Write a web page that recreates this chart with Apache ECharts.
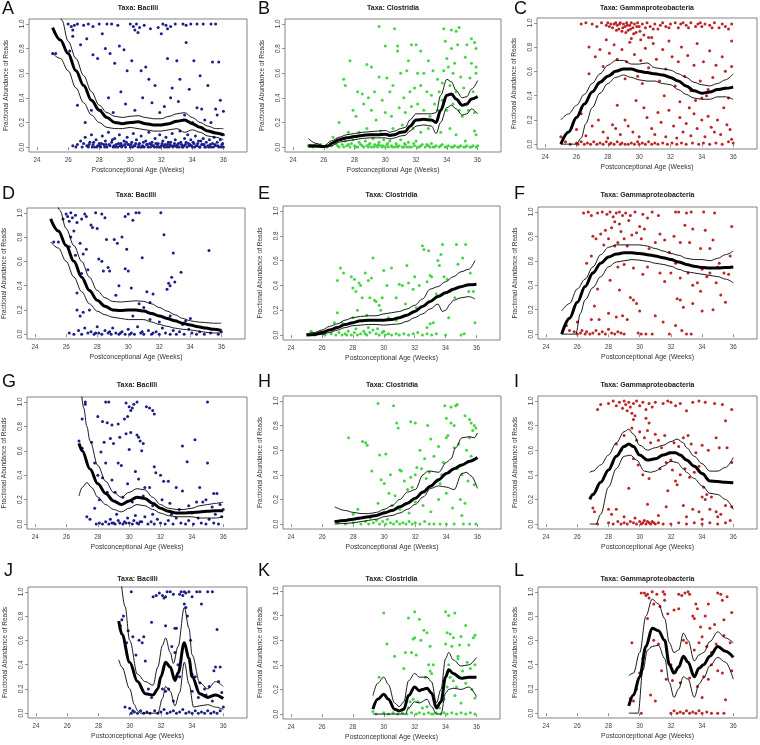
<!DOCTYPE html>
<html><head><meta charset="utf-8">
<script src="https://cdn.jsdelivr.net/npm/echarts@6/dist/echarts.min.js"></script>
<style>html,body{margin:0;padding:0;background:#fff}#c{width:760px;height:745px}</style>
</head><body><div id="c"></div>
<script>
const xTicks=[24,26,28,30,32,34,36];
const yTicks=[0,0.2,0.4,0.6,0.8,1.0];
const letters=['A','B','C','D','E','F','G','H','I','J','K','L'];
const taxa=['Bacilli','Clostridia','Gammaproteobacteria'];

// ---- Panel A (Bacilli) ----
const A_fit=[[25,0.97],[25.5,0.87],[26,0.76],[26.5,0.62],[27,0.5],[27.5,0.38],[28,0.3],[28.5,0.24],[29,0.2],[29.5,0.19],[30,0.2],[30.5,0.205],[31,0.19],[31.5,0.18],[32,0.18],[32.5,0.19],[33,0.21],[33.5,0.22],[34,0.19],[34.5,0.16],[35,0.13],[35.5,0.115],[36,0.1]];
const A_up=[[25.3,1.2],[25.6,1.03],[26,0.86],[26.5,0.72],[27,0.58],[27.5,0.45],[28,0.34],[28.5,0.28],[29,0.25],[29.5,0.24],[30,0.25],[30.5,0.255],[31,0.24],[31.5,0.23],[32,0.23],[32.5,0.25],[33,0.27],[33.5,0.28],[34,0.24],[34.5,0.2],[35,0.17],[35.5,0.15],[36,0.15]];
const A_lo=[[25,0.76],[25.5,0.72],[26,0.62],[26.5,0.48],[27,0.36],[27.5,0.26],[28,0.2],[28.5,0.16],[29,0.15],[29.5,0.15],[30,0.16],[30.5,0.15],[31,0.14],[31.5,0.13],[32,0.13],[32.5,0.14],[33,0.15],[33.5,0.12],[34,0.14],[34.5,0.12],[35,0.09],[35.5,0.08],[36,0.06]];
const A_pts=[[26.0,1.0],[26.2,0.98],[26.4,0.99],[26.6,1.0],[27.0,0.99],[27.3,1.0],[27.6,0.98],[28.0,1.0],[28.5,1.0],[28.8,1.0],[29.2,0.99],[30.0,1.0],[30.2,0.98],[30.4,1.0],[30.6,0.97],[30.9,0.99],[31.3,0.96],[31.8,0.97],[32.1,1.0],[32.3,0.99],[32.6,0.98],[32.9,1.0],[33.4,1.0],[33.6,0.99],[33.9,1.0],[34.3,1.0],[34.7,1.0],[35.2,1.0],[35.5,1.0],[32.4,0.96],[30.3,0.95],[26.3,0.95],
[25.0,0.76],[25.2,0.76],[26.1,0.78],[26.3,0.9],[26.8,0.83],[27.2,0.88],[27.6,0.75],[27.9,0.72],[28.2,0.92],[28.4,0.8],[28.7,0.76],[29.0,0.68],[29.3,0.82],[29.6,0.79],[29.8,0.62],[30.1,0.7],[30.5,0.93],[30.7,0.62],[31.0,0.65],[31.2,0.55],[31.6,0.5],[32.0,0.92],[32.4,0.72],[32.7,0.48],[33.0,0.7],[33.2,0.55],[33.6,0.85],[33.8,0.47],[34.1,0.7],[34.5,0.58],[35.0,0.5],[35.3,0.69],[35.7,0.69],[35.8,0.38],[35.5,0.31],[34.6,0.31],[34.3,0.32],[26.6,0.34],[27.1,0.2],[27.5,0.3],[28.1,0.3],[28.6,0.4],[28.9,0.28],[29.4,0.45],[29.7,0.35],[30.3,0.3],[30.8,0.4],[31.4,0.36],[31.9,0.28],[32.2,0.33],[32.6,0.4],[33.1,0.37],[33.5,0.26],[34.0,0.2],[34.8,0.22],[35.2,0.2],[35.6,0.26],[36.0,0.29],
[26.3,0.01],[26.5,0.0],[26.6,0.02],[26.8,0.05],[26.9,0.0],[27.0,0.03],[27.1,0.08],[27.2,0.01],[27.3,0.0],[27.4,0.04],[27.5,0.1],[27.6,0.02],[27.7,0.0],[27.8,0.06],[27.9,0.01],[28.0,0.03],[28.1,0.0],[28.2,0.09],[28.3,0.02],[28.4,0.05],[28.5,0.0],[28.6,0.12],[28.7,0.01],[28.8,0.04],[28.9,0.0],[29.0,0.07],[29.1,0.02],[29.2,0.0],[29.3,0.1],[29.4,0.03],[29.5,0.01],[29.6,0.05],[29.7,0.0],[29.8,0.08],[29.9,0.02],[30.0,0.0],[30.1,0.04],[30.2,0.11],[30.3,0.01],[30.4,0.06],[30.5,0.0],[30.6,0.03],[30.7,0.09],[30.8,0.01],[30.9,0.0],[31.0,0.05],[31.1,0.02],[31.2,0.12],[31.3,0.0],[31.4,0.04],[31.5,0.01],[31.6,0.07],[31.7,0.0],[31.8,0.03],[31.9,0.1],[32.0,0.01],[32.1,0.05],[32.2,0.0],[32.3,0.08],[32.4,0.02],[32.5,0.0],[32.6,0.04],[32.7,0.11],[32.8,0.01],[32.9,0.06],[33.0,0.0],[33.1,0.03],[33.2,0.13],[33.3,0.02],[33.4,0.0],[33.5,0.07],[33.6,0.04],[33.7,0.1],[33.8,0.01],[33.9,0.06],[34.0,0.0],[34.1,0.03],[34.2,0.09],[34.3,0.01],[34.4,0.05],[34.5,0.0],[34.6,0.02],[34.7,0.07],[34.8,0.0],[34.9,0.04],[35.0,0.01],[35.1,0.06],[35.2,0.0],[35.3,0.03],[35.4,0.08],[35.5,0.01],[35.6,0.04],[35.7,0.0],[35.8,0.06],[35.9,0.02],[36.0,0.0],[36.0,0.1],
[27.55,0.0],[28.05,0.01],[28.45,0.02],[28.95,0.01],[29.45,0.0],[29.85,0.02],[30.25,0.01],[30.65,0.0],[31.05,0.02],[31.45,0.01],[31.85,0.0],[32.25,0.02],[32.65,0.01],[33.05,0.02],[33.45,0.01],[33.85,0.02],[34.25,0.01],[34.65,0.02],[35.05,0.0],[35.45,0.02],
[27.35,0.02],[27.65,0.04],[27.85,0.0],[28.15,0.03],[28.35,0.0],[28.65,0.02],[28.85,0.06],[29.05,0.0],[29.25,0.03],[29.35,0.01],[29.65,0.02],[29.75,0.04],[30.05,0.02],[30.15,0.0],[30.35,0.03],[30.55,0.02],[30.75,0.0],[30.85,0.04],[31.15,0.0],[31.25,0.03],[31.35,0.02],[31.55,0.0],[31.65,0.03],[31.75,0.02],[31.95,0.0],[32.05,0.03],[32.15,0.01],[32.35,0.0],[32.45,0.04],[32.55,0.02],[32.75,0.0],[32.85,0.03],[32.95,0.01],[33.15,0.0],[33.25,0.04],[33.35,0.0],[33.55,0.02],[33.65,0.0],[33.75,0.03],[33.95,0.01],[34.05,0.04],[34.15,0.0],[34.35,0.03],[34.45,0.0],[34.55,0.05],[34.75,0.02],[34.85,0.0],[35.15,0.02],[35.35,0.0],[35.65,0.01],[35.85,0.0],[35.95,0.03]];

// ---- Panel B (Clostridia) ----
const B_fit=[[25,0.01],[25.5,0.01],[26,0.005],[26.3,0.01],[26.5,0.03],[27,0.06],[27.5,0.075],[28,0.085],[28.5,0.095],[29,0.1],[29.5,0.1],[30,0.105],[30.3,0.095],[30.6,0.1],[31,0.12],[31.3,0.125],[31.6,0.17],[32,0.22],[32.5,0.225],[33,0.22],[33.3,0.2],[33.6,0.3],[34,0.42],[34.3,0.43],[34.6,0.39],[35,0.34],[35.3,0.35],[35.6,0.39],[36,0.41]];
const B_up=[[25,0.07],[25.5,0.03],[26,0.01],[26.5,0.05],[27,0.08],[27.5,0.1],[28,0.11],[28.5,0.12],[29,0.125],[29.5,0.13],[30,0.135],[30.3,0.12],[30.6,0.13],[31,0.15],[31.3,0.16],[31.6,0.22],[32,0.27],[32.5,0.27],[33,0.27],[33.3,0.28],[33.6,0.42],[34,0.55],[34.3,0.53],[34.6,0.46],[35,0.4],[35.3,0.41],[35.6,0.47],[36,0.54]];
const B_lo=[[25,0.0],[25.5,0.0],[26,0.0],[26.5,0.01],[27,0.04],[27.5,0.05],[28,0.06],[28.5,0.07],[29,0.075],[29.5,0.075],[30,0.075],[30.3,0.065],[30.6,0.075],[31,0.09],[31.3,0.095],[31.6,0.13],[32,0.17],[32.5,0.18],[33,0.17],[33.3,0.11],[33.6,0.2],[34,0.32],[34.3,0.34],[34.6,0.31],[35,0.26],[35.3,0.27],[35.6,0.31],[36,0.27]];
const B_pts=[[29.6,0.98],[30.6,0.96],[33.8,0.96],[34.3,0.95],[34.6,0.94],[34.8,0.97],[27.7,0.7],[30.0,0.82],[30.8,0.82],[30.8,0.78],[31.7,0.83],[32.0,0.83],[32.3,0.78],[31.5,0.7],[32.8,0.7],[33.9,0.86],[34.0,0.72],[34.3,0.8],[34.5,0.68],[34.7,0.83],[35.3,0.83],[35.6,0.88],[35.8,0.85],[35.9,0.8],[35.2,0.73],[35.6,0.68],[35.9,0.65],[28.8,0.67],[29.1,0.65],[29.6,0.57],[30.1,0.56],[31.0,0.6],[31.4,0.62],[32.1,0.6],[32.5,0.6],[33.1,0.62],[33.4,0.55],[33.8,0.62],[34.1,0.65],[34.4,0.6],[34.9,0.57],[35.5,0.56],[35.9,0.6],[27.3,0.55],[27.4,0.5],[28.2,0.45],[28.5,0.43],[28.9,0.4],[29.3,0.45],[29.8,0.38],[30.3,0.45],[30.5,0.5],[31.2,0.4],[31.6,0.45],[31.9,0.48],[32.3,0.5],[32.7,0.45],[33.0,0.42],[33.5,0.45],[33.7,0.52],[34.2,0.5],[34.6,0.45],[35.1,0.48],[35.7,0.45],[27.0,0.2],[27.9,0.3],[28.1,0.25],[28.6,0.35],[29.1,0.3],[29.4,0.22],[30.0,0.28],[30.4,0.25],[30.9,0.32],[31.3,0.28],[31.7,0.33],[32.1,0.35],[32.5,0.3],[32.9,0.25],[33.2,0.35],[33.4,0.3],[33.7,0.38],[34.0,0.3],[34.4,0.35],[34.8,0.3],[35.0,0.25],[35.4,0.3],[35.8,0.28],[35.9,0.1],[35.8,0.13],[35.2,0.05],[34.6,0.1],[34.2,0.15],[33.6,0.12],[32.8,0.15],[32.3,0.12],[31.8,0.15],[31.1,0.18],[30.5,0.15],[29.7,0.13],[28.8,0.15],[28.3,0.12],[27.6,0.12],[26.6,0.08],
[25.0,0.01],[25.3,0.0],[25.8,0.02],[26.2,0.0],[26.5,0.01],[26.8,0.03],[27.0,0.0],[27.2,0.02],[27.4,0.05],[27.5,0.01],[27.7,0.0],[27.8,0.03],[27.9,0.06],[28.0,0.01],[28.2,0.0],[28.3,0.04],[28.4,0.02],[28.6,0.0],[28.7,0.05],[28.8,0.01],[29.0,0.03],[29.1,0.0],[29.2,0.07],[29.3,0.02],[29.5,0.0],[29.6,0.04],[29.7,0.01],[29.9,0.06],[30.0,0.0],[30.1,0.02],[30.3,0.05],[30.4,0.01],[30.6,0.0],[30.7,0.03],[30.9,0.01],[31.0,0.06],[31.2,0.0],[31.3,0.02],[31.5,0.04],[31.7,0.0],[31.9,0.01],[32.0,0.05],[32.2,0.0],[32.4,0.02],[32.6,0.0],[32.8,0.01],[33.0,0.03],[33.1,0.0],[33.3,0.01],[33.5,0.0],[33.7,0.02],[33.9,0.0],[34.1,0.01],[34.3,0.0],[34.5,0.01],[34.7,0.0],[34.9,0.01],[35.1,0.0],[35.3,0.01],[35.5,0.0],[35.7,0.01],[35.9,0.0],[28.1,0.0],[28.9,0.0],[29.8,0.0],[30.2,0.0],[30.8,0.0],[31.4,0.0],[32.1,0.0],[32.9,0.0],[31.1,0.0],[29.4,0.01],[27.3,0.0],[26.9,0.01],
[27.6,0.02],[28.5,0.01],[28.95,0.02],[29.25,0.0],[29.55,0.02],[29.85,0.01],[30.15,0.03],[30.45,0.0],[30.75,0.01],[31.25,0.03],[31.55,0.0],[31.85,0.03],[32.3,0.01],[32.7,0.02],[33.2,0.0],[33.6,0.01],[34.0,0.0],[34.4,0.0],[34.8,0.0],[35.2,0.0],[35.6,0.0],[36.0,0.01]];

// ---- Panel C (Gammaproteobacteria) ----
const C_fit=[[25,0.0],[25.5,0.1],[26,0.22],[26.5,0.33],[27,0.43],[27.5,0.51],[28,0.56],[28.5,0.6],[29,0.62],[29.5,0.62],[30,0.6],[30.5,0.59],[31,0.58],[31.5,0.57],[32,0.55],[32.5,0.52],[33,0.48],[33.5,0.44],[34,0.42],[34.5,0.43],[35,0.45],[35.5,0.46],[36,0.47]];
const C_up=[[25,0.2],[25.5,0.25],[26,0.32],[26.5,0.41],[27,0.5],[27.5,0.58],[28,0.65],[28.5,0.69],[29,0.69],[29.5,0.66],[30,0.66],[30.5,0.67],[31,0.63],[31.5,0.62],[32,0.61],[32.5,0.58],[33,0.55],[33.5,0.51],[34,0.49],[34.5,0.48],[35,0.5],[35.5,0.53],[36,0.58]];
const C_lo=[[25,0.0],[25.5,0.0],[26,0.0],[26.3,0.05],[26.6,0.17],[27,0.3],[27.5,0.42],[28,0.5],[28.5,0.55],[29,0.57],[29.5,0.55],[30,0.53],[30.5,0.52],[31,0.52],[31.5,0.5],[32,0.49],[32.5,0.45],[33,0.41],[33.5,0.38],[34,0.37],[34.5,0.37],[35,0.39],[35.5,0.39],[36,0.37]];
const C_pts=[[26.3,0.99],[26.6,1.0],[27.0,0.99],[27.3,0.97],[27.6,1.0],[27.9,0.98],[28.0,1.0],[28.2,0.99],[28.3,0.96],[28.5,1.0],[28.6,0.98],[28.7,0.95],[28.8,1.0],[28.9,0.93],[29.0,0.99],[29.1,0.97],[29.2,1.0],[29.3,0.94],[29.4,0.98],[29.5,1.0],[29.6,0.96],[29.7,0.99],[29.8,0.92],[29.9,1.0],[30.0,0.97],[30.2,0.99],[30.3,0.9],[30.5,1.0],[30.7,0.97],[30.8,0.88],[31.0,0.99],[31.2,0.95],[31.5,1.0],[31.7,0.97],[32.0,0.99],[32.3,1.0],[32.5,0.96],[32.8,1.0],[33.0,0.98],[33.3,1.0],[33.6,0.97],[33.9,1.0],[34.2,0.99],[34.5,0.98],[34.8,1.0],[35.1,0.96],[35.5,0.97],[35.9,0.99],[30.1,0.86],[30.6,0.88],[29.5,0.87],
[28.1,0.97],[28.4,0.99],[28.55,0.94],[28.75,0.99],[28.95,0.96],[29.15,0.92],[29.25,0.98],[29.45,0.95],[29.65,0.91],[29.85,0.97],[30.05,0.93],[30.4,0.96],[30.9,0.95],[31.35,0.98],[31.9,0.96],[32.65,0.99],[33.15,0.96],[33.75,0.99],[34.0,0.97],[34.65,0.96],[35.3,0.99],[35.7,0.95],
[26.8,0.8],[27.2,0.72],[27.5,0.78],[27.7,0.64],[27.9,0.86],[28.1,0.75],[28.4,0.82],[28.6,0.7],[28.9,0.78],[29.2,0.68],[29.4,0.84],[29.7,0.74],[29.9,0.56],[30.1,0.69],[30.4,0.79],[30.6,0.63],[30.9,0.83],[31.1,0.7],[31.3,0.52],[31.5,0.78],[31.7,0.62],[31.9,0.85],[32.1,0.72],[32.3,0.48],[32.5,0.68],[32.7,0.8],[32.9,0.56],[33.1,0.73],[33.3,0.44],[33.5,0.65],[33.7,0.83],[33.9,0.52],[34.1,0.68],[34.3,0.4],[34.5,0.77],[34.7,0.55],[34.9,0.65],[35.1,0.45],[35.3,0.72],[35.5,0.6],[35.7,0.38],[35.9,0.85],[35.9,0.64],[34.0,0.38],[34.4,0.45],[33.6,0.36],[33.2,0.3],[32.6,0.35],[31.6,0.4],[30.2,0.5],[29.1,0.54],[28.3,0.58],[28.6,0.32],[27.4,0.5],[26.8,0.58],
[26.0,0.12],[26.3,0.25],[26.6,0.07],[27.0,0.15],[27.4,0.2],[27.7,0.1],[28.0,0.05],[28.3,0.16],[28.5,0.13],[28.8,0.08],[29.1,0.2],[29.3,0.15],[29.6,0.1],[29.8,0.36],[30.0,0.06],[30.3,0.3],[30.5,0.22],[30.8,0.13],[31.0,0.08],[31.2,0.26],[31.4,0.18],[31.7,0.06],[31.9,0.28],[32.2,0.15],[32.4,0.05],[32.6,0.22],[32.8,0.1],[33.0,0.17],[33.3,0.07],[33.5,0.25],[33.7,0.13],[34.0,0.2],[34.2,0.06],[34.4,0.23],[34.6,0.14],[34.8,0.1],[35.0,0.2],[35.2,0.08],[35.4,0.3],[35.6,0.16],[35.8,0.12],[35.9,0.04],[25.0,0.06],[25.3,0.02],
[25.6,0.0],[26.0,0.01],[26.1,0.0],[26.3,0.02],[26.5,0.0],[26.7,0.01],[26.9,0.0],[27.1,0.02],[27.3,0.0],[27.5,0.01],[27.7,0.0],[27.9,0.02],[28.1,0.0],[28.2,0.01],[28.4,0.0],[28.6,0.02],[28.8,0.0],[28.9,0.01],[29.1,0.0],[29.3,0.0],[29.5,0.01],[29.7,0.0],[29.9,0.02],[30.0,0.0],[30.2,0.01],[30.4,0.0],[30.6,0.02],[30.8,0.0],[31.0,0.01],[31.2,0.0],[31.5,0.01],[31.8,0.0],[32.1,0.01],[32.4,0.0],[32.7,0.01],[33.0,0.0],[33.4,0.01],[33.8,0.0],[34.1,0.01],[34.5,0.0],[34.9,0.01],[35.3,0.0],[35.7,0.02],[36.0,0.01]];

// ---- Panel D (Bacilli) ----
const D_fit=[[25,0.95],[25.5,0.85],[26,0.73],[26.5,0.6],[27,0.47],[27.5,0.36],[28,0.28],[28.5,0.23],[29,0.2],[29.5,0.195],[30,0.2],[30.5,0.2],[31,0.19],[31.5,0.17],[32,0.15],[32.5,0.13],[33,0.11],[33.5,0.09],[34,0.075],[34.5,0.06],[35,0.05],[35.5,0.04],[36,0.03]];
const D_up=[[25.3,1.15],[25.6,1.02],[26,0.87],[26.5,0.73],[27,0.6],[27.5,0.47],[28,0.36],[28.5,0.3],[29,0.27],[29.5,0.265],[30,0.27],[30.5,0.275],[31,0.27],[31.5,0.25],[32,0.22],[32.5,0.19],[33,0.16],[33.5,0.13],[34,0.11],[34.5,0.1],[35,0.095],[35.5,0.09],[36,0.09]];
const D_lo=[[25,0.76],[25.5,0.71],[26,0.6],[26.5,0.47],[27,0.35],[27.5,0.25],[28,0.19],[28.5,0.16],[29,0.14],[29.5,0.13],[30,0.12],[30.5,0.12],[31,0.12],[31.5,0.1],[32,0.08],[32.5,0.065],[33,0.05],[33.5,0.04],[34,0.035],[34.5,0.025],[35,0.015],[35.5,0.01],[36,0.01]];
const D_pts=[[25.2,0.76],[25.5,0.76],[25.8,0.95],[26.0,0.99],[26.1,0.97],[26.2,0.93],[26.3,1.0],[26.4,0.96],[26.6,0.98],[26.7,0.92],[27.0,0.95],[27.2,0.99],[27.3,0.97],[27.6,0.9],[27.9,1.0],[28.3,0.99],[28.5,0.96],[26.3,0.8],[26.5,0.85],[26.2,0.72],[26.6,0.65],[26.9,0.75],[27.1,0.66],[27.3,0.7],[27.7,0.88],[28.0,0.87],[28.1,0.62],[28.3,0.6],[28.6,0.78],[28.7,0.55],[28.8,0.52],[29.1,0.78],[29.3,0.75],[29.6,0.8],[29.9,0.7],[29.8,0.97],[30.0,0.99],[30.3,0.94],[30.5,1.0],[30.7,1.0],[32.1,1.0],[32.3,0.82],[32.9,0.67],[33.4,0.51],[35.2,0.69],[30.0,0.52],[29.8,0.54],[28.4,0.52],[27.0,0.5],[27.4,0.53],[30.9,0.63],[29.4,0.4],[30.2,0.38],[29.2,0.32],[31.2,0.35],[31.6,0.33],[32.5,0.37],[32.6,0.42],[32.8,0.47],[33.0,0.43],[32.7,0.4],[26.7,0.34],[26.7,0.2],[27.1,0.18],[27.5,0.2],[26.9,0.15],[31.0,0.22],[31.4,0.26],[30.7,0.25],[30.3,0.15],[31.4,0.12],[32.0,0.1],[32.7,0.15],[33.7,0.11],[34.0,0.13],[33.5,0.08],
[26.2,0.01],[26.5,0.0],[26.8,0.03],[27.0,0.0],[27.2,0.05],[27.4,0.01],[27.6,0.02],[27.8,0.0],[28.0,0.06],[28.1,0.01],[28.3,0.0],[28.5,0.03],[28.7,0.01],[28.9,0.0],[29.0,0.05],[29.2,0.01],[29.4,0.0],[29.6,0.02],[29.8,0.0],[30.0,0.04],[30.2,0.01],[30.4,0.0],[30.6,0.06],[30.8,0.01],[31.0,0.0],[31.3,0.03],[31.5,0.0],[31.8,0.02],[32.0,0.0],[32.2,0.05],[32.4,0.01],[32.7,0.0],[32.9,0.03],[33.1,0.0],[33.3,0.02],[33.6,0.0],[33.9,0.04],[34.1,0.01],[34.4,0.0],[34.6,0.02],[34.9,0.0],[35.3,0.01],[35.8,0.0],[36.0,0.02],[27.9,0.01],[28.8,0.02],[29.5,0.01],[30.1,0.0],[30.9,0.02],[31.6,0.01]];

// ---- Panel E (Clostridia) ----
const E_fit=[[25,0.0],[25.5,0.005],[26,0.02],[26.5,0.04],[27,0.06],[27.5,0.085],[28,0.1],[28.5,0.115],[29,0.12],[29.5,0.12],[30,0.12],[30.5,0.125],[31,0.14],[31.5,0.16],[32,0.19],[32.5,0.23],[33,0.27],[33.5,0.31],[34,0.34],[34.5,0.37],[35,0.39],[35.5,0.405],[36,0.41]];
const E_up=[[25,0.01],[25.5,0.02],[26,0.04],[26.5,0.07],[27,0.09],[27.5,0.12],[28,0.14],[28.5,0.15],[29,0.155],[29.5,0.155],[30,0.17],[30.5,0.18],[31,0.19],[31.5,0.21],[32,0.24],[32.5,0.29],[33,0.37],[33.5,0.39],[34,0.43],[34.5,0.47],[35,0.51],[35.5,0.53],[35.9,0.6]];
const E_lo=[[25,0.0],[25.5,0.0],[26,0.005],[26.5,0.02],[27,0.04],[27.5,0.06],[28,0.075],[28.5,0.08],[29,0.085],[29.5,0.085],[30,0.08],[30.5,0.085],[31,0.09],[31.5,0.11],[32,0.14],[32.5,0.17],[33,0.21],[33.5,0.25],[33.8,0.19],[34,0.2],[34.3,0.25],[34.5,0.28],[35,0.3],[35.5,0.31],[35.9,0.29]];
const E_pts=[[26.1,0.01],[25.3,0.03],[27.0,0.44],[27.2,0.54],[27.4,0.5],[27.9,0.47],[28.0,0.38],[28.2,0.35],[28.4,0.42],[28.1,0.45],[28.6,0.3],[28.8,0.5],[28.5,0.4],[29.0,0.44],[29.2,0.46],[29.3,0.62],[29.4,0.28],[29.5,0.27],[29.1,0.3],[29.8,0.2],[29.9,0.3],[30.0,0.52],[30.2,0.4],[30.5,0.54],[30.8,0.3],[31.0,0.41],[31.2,0.4],[31.4,0.25],[31.6,0.42],[31.5,0.56],[31.9,0.37],[32.0,0.47],[32.3,0.4],[32.5,0.72],[32.6,0.69],[32.8,0.43],[32.9,0.68],[33.0,0.48],[33.1,0.47],[33.4,0.33],[33.5,0.6],[33.6,0.56],[33.7,0.65],[33.8,0.73],[33.9,0.47],[34.1,0.45],[34.3,0.35],[34.0,0.0],[34.2,0.14],[34.6,0.3],[34.7,0.73],[34.8,0.57],[35.0,0.0],[35.2,0.01],[35.3,0.73],[35.1,0.62],[35.5,0.35],[35.6,0.5],[35.8,0.35],[35.9,0.1],[27.0,0.18],[27.3,0.1],[28.0,0.14],[28.3,0.2],[28.9,0.16],[29.7,0.24],[30.3,0.14],[30.8,0.12],[31.3,0.15],[32.1,0.22],[33.0,0.09],[33.2,0.1],[32.8,0.06],[26.8,0.1],
[25.5,0.0],[26.2,0.0],[26.6,0.01],[26.9,0.0],[27.1,0.02],[27.3,0.0],[27.5,0.01],[27.7,0.03],[27.9,0.0],[28.1,0.02],[28.3,0.0],[28.5,0.01],[28.7,0.03],[28.9,0.0],[29.1,0.02],[29.3,0.04],[29.5,0.01],[29.7,0.0],[29.9,0.02],[30.1,0.0],[30.3,0.01],[30.5,0.0],[30.8,0.01],[31.0,0.0],[31.3,0.01],[31.6,0.0],[31.9,0.01],[32.2,0.02],[32.5,0.0],[32.8,0.01],[33.1,0.0],[33.4,0.01],[28.2,0.05],[29.0,0.06],[29.6,0.05],[30.0,0.03],[27.6,0.0],[28.8,0.01]];

// ---- Panel F (Gammaproteobacteria) ----
const F_fit=[[25,0.0],[25.5,0.13],[26,0.26],[26.5,0.39],[27,0.5],[27.5,0.58],[28,0.63],[28.5,0.655],[29,0.665],[29.5,0.665],[30,0.66],[30.5,0.65],[31,0.64],[31.5,0.625],[32,0.61],[32.5,0.59],[33,0.57],[33.5,0.555],[34,0.545],[34.5,0.54],[35,0.54],[35.5,0.545],[36,0.55]];
const F_up=[[25,0.19],[25.5,0.25],[26,0.37],[26.5,0.45],[27,0.55],[27.5,0.65],[28,0.71],[28.5,0.73],[29,0.73],[29.5,0.73],[30,0.73],[30.5,0.72],[31,0.7],[31.5,0.68],[32,0.66],[32.5,0.645],[33,0.62],[33.5,0.61],[34,0.61],[34.5,0.6],[35,0.62],[35.5,0.65],[36,0.68]];
const F_lo=[[25,0.0],[25.5,0.0],[25.9,0.0],[26.2,0.17],[26.5,0.28],[27,0.38],[27.5,0.47],[28,0.55],[28.5,0.59],[29,0.6],[29.5,0.61],[30,0.605],[30.5,0.595],[31,0.58],[31.5,0.57],[32,0.555],[32.5,0.53],[33,0.51],[33.5,0.5],[34,0.49],[34.5,0.48],[35,0.47],[35.5,0.45],[36,0.42]];
const F_pts=[[26.4,0.99],[26.7,1.0],[26.9,0.97],[27.3,0.99],[27.6,1.0],[27.9,0.98],[28.1,1.0],[28.3,0.96],[28.5,0.99],[28.7,1.0],[28.9,0.97],[29.1,0.99],[29.4,0.97],[29.7,1.0],[30.2,0.98],[30.5,0.95],[30.8,1.0],[31.2,0.97],[32.3,1.0],[32.5,1.0],[33.0,0.99],[33.3,1.0],[34.1,1.0],[34.8,0.99],[28.4,0.92],[28.7,0.9],[29.3,0.93],[30.0,0.88],
[26.6,0.58],[27.0,0.8],[27.2,0.78],[27.5,0.82],[27.7,0.73],[27.8,0.85],[28.0,0.78],[28.2,0.87],[28.4,0.72],[28.6,0.75],[28.8,0.84],[29.0,0.78],[29.2,0.72],[29.5,0.81],[29.8,0.83],[30.1,0.78],[30.3,0.86],[30.6,0.7],[31.0,0.75],[31.3,0.82],[31.6,0.77],[31.9,0.67],[32.2,0.8],[32.6,0.75],[32.9,0.89],[33.2,0.75],[33.4,0.86],[33.9,0.7],[34.2,0.85],[34.5,0.7],[34.7,0.77],[35.0,0.55],[35.9,0.88],[35.8,0.64],[26.9,0.64],[27.0,0.5],[28.6,0.55],[29.0,0.57],[29.6,0.54],[30.2,0.49],[30.5,0.55],[31.3,0.5],[31.6,0.43],[32.0,0.5],[32.3,0.58],[32.6,0.46],[33.1,0.5],[33.4,0.4],[33.7,0.42],[33.9,0.35],[34.0,0.53],[34.3,0.47],[34.5,0.5],[34.9,0.42],[35.1,0.58],[35.4,0.5],[35.7,0.49],[27.3,0.37],[28.1,0.44],[28.7,0.36],[29.4,0.3],[29.6,0.28],[29.8,0.25],[30.0,0.19],[31.0,0.15],[31.5,0.1],[32.4,0.29],[32.6,0.28],[32.8,0.22],[33.4,0.25],[34.0,0.19],[34.7,0.2],[35.2,0.32],[35.5,0.26],[27.1,0.23],[26.9,0.12],[27.4,0.12],[28.0,0.17],[28.5,0.14],[28.9,0.15],[29.2,0.12],[25.3,0.07],[26.0,0.1],[25.5,0.03],[32.3,0.07],[32.7,0.03],
[25.8,0.02],[26.0,0.0],[26.2,0.01],[26.3,0.03],[26.5,0.0],[26.6,0.02],[26.8,0.0],[27.0,0.01],[27.2,0.03],[27.4,0.0],[27.6,0.02],[27.8,0.0],[28.0,0.04],[28.2,0.01],[28.4,0.0],[28.6,0.02],[28.8,0.01],[29.0,0.0],[29.9,0.01],[30.1,0.0],[30.4,0.0],[30.8,0.0],[31.9,0.0],[33.0,0.0],[33.3,0.0]];

// ---- Panel G (Bacilli) ----
const G_fit=[[26.8,0.66],[27,0.6],[27.5,0.45],[28,0.33],[28.5,0.25],[29,0.19],[29.5,0.16],[30,0.19],[30.5,0.22],[31,0.21],[31.5,0.17],[32,0.13],[32.5,0.105],[33,0.09],[33.5,0.09],[34,0.095],[34.5,0.1],[35,0.105],[35.5,0.11],[36,0.11]];
const G_up=[[26.9,1.15],[27.1,0.95],[27.3,0.8],[27.5,0.68],[28,0.48],[28.5,0.35],[29,0.26],[29.5,0.22],[30,0.26],[30.5,0.29],[31,0.28],[31.5,0.22],[32,0.16],[32.5,0.13],[33,0.12],[33.5,0.12],[34,0.13],[34.5,0.15],[35,0.16],[35.5,0.17],[36,0.18]];
const G_lo=[[26.8,0.23],[27.0,0.3],[27.3,0.34],[27.6,0.3],[28,0.22],[28.5,0.16],[29,0.12],[29.5,0.1],[30,0.13],[30.5,0.16],[31,0.15],[31.5,0.12],[32,0.09],[32.5,0.07],[33,0.06],[33.5,0.06],[34,0.06],[34.5,0.05],[35,0.05],[35.5,0.05],[36,0.06]];
const G_pts=[[27.2,1.0],[27.2,0.98],[28.5,1.0],[28.7,1.0],[29.8,0.99],[30.0,0.96],[30.1,0.93],[30.2,0.95],[30.3,0.98],[30.5,1.0],[31.1,0.96],[31.3,0.95],[31.5,0.93],[31.6,0.9],[35.0,1.0],[27.0,0.86],[28.0,0.88],[28.3,0.84],[28.6,0.83],[28.9,0.81],[29.3,0.82],[29.7,0.86],[29.9,0.88],[30.1,0.75],[30.5,0.73],[30.6,0.71],[30.7,0.68],[29.8,0.74],[29.0,0.66],[28.8,0.7],[28.4,0.67],[27.6,0.67],[29.4,0.71],[30.0,0.61],[30.9,0.66],[34.2,0.69],[33.4,0.64],[26.8,0.68],[27.0,0.62],[28.2,0.59],[27.8,0.5],[28.5,0.5],[29.3,0.5],[30.8,0.6],[33.7,0.51],[35.0,0.5],
[28.0,0.4],[28.3,0.38],[28.9,0.36],[29.5,0.48],[29.9,0.33],[30.4,0.43],[30.6,0.37],[31.0,0.3],[31.3,0.3],[31.6,0.47],[31.7,0.42],[32.0,0.4],[32.2,0.35],[32.5,0.35],[33.0,0.3],[33.4,0.27],[34.5,0.3],[34.9,0.2],[35.4,0.25],[35.6,0.25],[36.0,0.12],[27.3,0.06],[27.5,0.04],[27.8,0.13],[28.1,0.2],[28.6,0.26],[29.1,0.26],[29.6,0.22],[30.2,0.18],[30.9,0.23],[31.5,0.15],[32.1,0.2],[32.6,0.17],[33.2,0.12],[33.8,0.15],[34.3,0.18],[34.7,0.18],[35.3,0.14],[35.8,0.16],
[27.9,0.0],[28.1,0.01],[28.3,0.0],[28.5,0.02],[28.7,0.0],[28.8,0.04],[29.0,0.01],[29.1,0.0],[29.3,0.03],[29.4,0.01],[29.6,0.0],[29.7,0.02],[29.9,0.05],[30.0,0.01],[30.2,0.0],[30.3,0.03],[30.5,0.01],[30.6,0.0],[30.8,0.02],[31.0,0.06],[31.2,0.0],[31.4,0.02],[31.6,0.0],[31.8,0.04],[32.0,0.01],[32.3,0.0],[32.5,0.03],[32.8,0.0],[33.0,0.05],[33.3,0.01],[33.6,0.0],[33.8,0.03],[34.1,0.0],[34.4,0.05],[34.6,0.01],[34.9,0.0],[35.1,0.04],[35.4,0.01],[35.7,0.0],[35.9,0.06],[29.2,0.08],[30.4,0.07],[31.5,0.08],[32.7,0.08],[34.0,0.09],[35.5,0.08],[28.9,0.01],[29.8,0.01],[30.7,0.02]];

// ---- Panel H (Clostridia) ----
const H_fit=[[26.8,0.02],[27.5,0.03],[28,0.04],[28.5,0.05],[29,0.06],[29.5,0.07],[30,0.09],[30.5,0.11],[31,0.14],[31.5,0.17],[32,0.21],[32.5,0.26],[33,0.31],[33.5,0.36],[34,0.41],[34.5,0.45],[35,0.48],[35.5,0.51],[36,0.54]];
const H_up=[[26.8,0.14],[27.5,0.11],[28,0.095],[28.5,0.085],[29,0.085],[29.5,0.095],[30,0.12],[30.5,0.15],[31,0.2],[31.5,0.26],[32,0.28],[32.5,0.4],[32.8,0.43],[33,0.43],[33.5,0.42],[34,0.5],[34.3,0.53],[34.6,0.62],[35,0.7],[35.5,0.71],[35.8,0.7],[36,0.74]];
const H_lo=[[26.8,0.0],[27.5,0.005],[28,0.01],[28.5,0.02],[29,0.03],[29.5,0.04],[30,0.06],[30.5,0.07],[31,0.09],[31.5,0.12],[32,0.16],[32.5,0.22],[33,0.29],[33.5,0.31],[34,0.3],[34.5,0.28],[35,0.41],[35.3,0.42],[35.6,0.39],[36,0.29]];
const H_pts=[[27.7,0.7],[28.6,0.67],[28.9,0.64],[28.8,0.66],[29.6,0.98],[30.6,0.96],[30.8,0.82],[30.9,0.78],[31.7,0.83],[32.0,0.82],[32.8,0.8],[33.9,0.96],[34.3,0.95],[34.6,0.96],[34.7,0.97],[34.0,0.86],[34.5,0.8],[35.2,0.88],[35.5,0.85],[35.6,0.82],[35.8,0.8],[35.9,0.78],[29.2,0.43],[29.7,0.56],[30.1,0.57],[30.4,0.4],[31.0,0.44],[31.1,0.43],[31.7,0.38],[32.0,0.4],[32.3,0.6],[32.6,0.53],[33.0,0.69],[33.5,0.63],[33.8,0.5],[34.1,0.72],[34.3,0.82],[34.5,0.62],[34.0,0.7],[34.8,0.65],[35.0,0.4],[35.3,0.6],[35.5,0.7],[35.7,0.76],[29.8,0.36],[30.0,0.33],[30.3,0.25],[30.7,0.23],[31.3,0.35],[31.5,0.28],[31.8,0.3],[32.1,0.46],[32.4,0.45],[32.7,0.37],[32.9,0.42],[33.2,0.55],[33.4,0.35],[33.6,0.33],[33.7,0.4],[34.2,0.42],[34.7,0.45],[35.0,0.07],[35.2,0.17],[35.4,0.35],[35.6,0.55],[35.8,0.32],[28.0,0.08],[28.3,0.12],[29.1,0.05],[29.6,0.17],[30.0,0.1],[30.5,0.15],[31.0,0.12],[31.6,0.09],[32.0,0.18],[32.5,0.15],[33.0,0.1],[33.5,0.2],[34.0,0.25],[34.4,0.13],[34.9,0.2],
[27.0,0.01],[27.5,0.0],[28.0,0.01],[28.5,0.0],[28.8,0.02],[29.0,0.0],[29.3,0.01],[29.5,0.03],[29.7,0.0],[29.9,0.02],[30.1,0.0],[30.2,0.04],[30.4,0.01],[30.6,0.0],[30.8,0.02],[31.0,0.0],[31.2,0.01],[31.4,0.0],[31.6,0.02],[31.8,0.0],[32.0,0.01],[32.3,0.0],[32.6,0.02],[32.9,0.0],[33.2,0.0],[33.6,0.0],[34.0,0.0],[34.5,0.0],[35.1,0.0],[35.5,0.0],[35.9,0.0]];

// ---- Panel I (Gammaproteobacteria) ----
const I_fit=[[26.8,0.2],[27,0.24],[27.5,0.34],[28,0.44],[28.5,0.55],[29,0.63],[29.3,0.65],[29.6,0.63],[30,0.56],[30.5,0.52],[31,0.53],[31.5,0.56],[32,0.58],[32.3,0.58],[32.6,0.56],[33,0.52],[33.5,0.47],[34,0.41],[34.5,0.35],[35,0.345],[35.5,0.34],[36,0.335]];
const I_up=[[26.8,0.42],[27,0.43],[27.5,0.48],[28,0.56],[28.5,0.66],[29,0.75],[29.3,0.77],[29.6,0.73],[30,0.64],[30.5,0.6],[31,0.62],[31.5,0.64],[32,0.67],[32.4,0.69],[32.8,0.66],[33,0.62],[33.5,0.55],[34,0.49],[34.5,0.43],[35,0.43],[35.5,0.46],[36,0.54]];
const I_lo=[[26.8,0.0],[27.2,0.0],[27.5,0.08],[28,0.3],[28.5,0.45],[29,0.55],[29.4,0.56],[29.8,0.52],[30.3,0.43],[30.7,0.42],[31,0.43],[31.5,0.47],[32,0.51],[32.4,0.5],[32.8,0.45],[33,0.42],[33.5,0.37],[34,0.31],[34.5,0.25],[35,0.24],[35.5,0.2],[36,0.12]];
const I_pts=[[27.3,0.93],[27.5,0.97],[28.0,0.98],[28.3,1.0],[28.5,0.96],[28.7,0.99],[28.9,0.94],[29.0,1.0],[29.1,0.97],[29.2,0.92],[29.3,0.99],[29.4,0.95],[29.5,0.9],[29.6,0.98],[29.7,0.88],[29.8,1.0],[30.0,0.96],[30.2,0.99],[30.4,0.93],[30.6,0.98],[30.8,0.95],[31.0,0.99],[31.5,0.98],[31.8,1.0],[32.0,0.99],[32.3,0.96],[32.6,0.98],[33.0,0.92],[33.4,0.99],[33.8,1.0],[34.2,0.99],[34.8,0.98],[35.3,0.97],[35.9,0.93],[35.5,0.84],[29.6,0.85],[30.4,0.86],[30.6,0.82],
[28.5,0.65],[28.8,0.6],[29.0,0.72],[29.5,0.78],[29.8,0.68],[30.0,0.75],[30.3,0.7],[30.5,0.76],[30.7,0.66],[31.0,0.73],[31.2,0.68],[31.4,0.62],[31.6,0.72],[31.9,0.58],[32.2,0.66],[32.5,0.63],[32.8,0.7],[33.1,0.72],[33.3,0.65],[33.6,0.58],[34.0,0.64],[34.4,0.6],[34.9,0.7],[35.1,0.62],[35.6,0.62],[35.9,0.5],[29.3,0.29],[29.6,0.53],[29.9,0.48],[30.2,0.4],[30.6,0.37],[31.3,0.45],[31.7,0.5],[32.0,0.52],[32.1,0.44],[32.3,0.35],[32.6,0.4],[32.9,0.45],[33.2,0.38],[33.5,0.42],[33.8,0.47],[34.1,0.3],[34.3,0.24],[34.6,0.22],[34.2,0.2],[34.0,0.22],[32.4,0.32],[31.8,0.27],[30.5,0.16],[31.7,0.14],[32.8,0.15],[33.4,0.12],[33.8,0.1],[34.5,0.12],[34.9,0.1],[35.2,0.08],[35.5,0.15],[35.9,0.14],[35.8,0.03],[28.0,0.12],[28.5,0.12],[28.2,0.08],[29.0,0.06],[27.1,0.1],[27.0,0.13],[29.7,0.05],[31.2,0.07],[33.0,0.06],[34.0,0.04],[35.0,0.06],
[27.3,0.0],[28.0,0.01],[28.3,0.0],[28.6,0.02],[28.8,0.0],[29.0,0.01],[29.2,0.0],[29.4,0.02],[29.6,0.01],[29.8,0.0],[30.0,0.02],[30.1,0.0],[30.2,0.01],[30.3,0.03],[30.4,0.0],[30.5,0.02],[30.6,0.01],[30.7,0.0],[30.8,0.02],[30.9,0.01],[31.0,0.0],[31.2,0.01],[31.5,0.0],[32.0,0.0],[32.5,0.01],[33.0,0.0],[33.5,0.01],[34.0,0.0],[34.5,0.01],[35.0,0.0],[35.5,0.01]];

// ---- Panel J (Bacilli) ----
const J_fit=[[29.3,0.76],[29.5,0.65],[30,0.42],[30.5,0.26],[31,0.16],[31.5,0.15],[31.8,0.2],[32,0.3],[32.3,0.42],[32.6,0.38],[32.9,0.27],[33.1,0.33],[33.5,0.58],[33.8,0.45],[34,0.3],[34.5,0.16],[35,0.13],[35.5,0.15],[36,0.12]];
const J_up=[[29.4,1.15],[29.7,0.88],[30,0.6],[30.5,0.32],[31,0.26],[31.5,0.23],[31.8,0.38],[32.1,0.56],[32.3,0.62],[32.6,0.5],[32.8,0.41],[33.1,0.55],[33.5,0.87],[33.8,0.7],[34,0.48],[34.5,0.25],[35,0.2],[35.5,0.26],[36,0.22]];
const J_lo=[[29.3,0.44],[29.5,0.38],[30,0.2],[30.3,0.07],[30.5,0.02],[30.7,0.0],[31,0.0],[31.5,0.0],[31.8,0.0],[32.1,0.12],[32.3,0.22],[32.6,0.18],[32.9,0.06],[33.2,0.17],[33.5,0.42],[33.8,0.24],[34.1,0.05],[34.5,0.06],[35,0.07],[35.5,0.05],[36,0.03]];
const J_pts=[[29.4,0.72],[29.5,0.77],[29.6,0.8],[29.8,0.58],[29.9,0.68],[30.1,1.0],[30.2,0.63],[30.4,0.48],[30.6,0.6],[30.8,0.58],[30.9,0.63],[31.0,0.43],[31.4,0.75],[31.5,0.96],[31.7,0.97],[31.9,0.99],[32.1,0.97],[32.2,0.95],[32.3,0.96],[32.4,1.0],[32.6,1.0],[32.8,0.98],[33.2,0.98],[33.3,1.0],[33.4,0.97],[33.5,1.0],[33.6,0.99],[33.8,1.0],[34.0,0.96],[34.3,1.0],[34.5,1.0],[34.6,0.9],[35.0,1.0],[35.3,1.0],[32.3,0.72],[32.7,0.55],[32.9,0.7],[33.0,0.7],[33.5,0.9],[33.6,0.87],[33.9,0.6],[33.7,0.8],[32.9,0.5],[33.1,0.4],[33.2,0.3],[34.0,0.32],[34.2,0.3],[34.5,0.25],[34.8,0.2],[35.1,0.22],[35.4,0.35],[35.5,0.38],[35.6,0.69],[35.8,0.38],[35.7,0.26],[32.1,0.2],[32.3,0.18],[32.5,0.2],[31.2,0.2],[31.4,0.13],[32.8,0.1],[34.0,0.18],[34.4,0.13],[34.9,0.15],[35.3,0.1],[35.9,0.17],[29.7,0.05],[30.0,0.04],[30.2,0.02],
[30.1,0.0],[30.3,0.01],[30.5,0.0],[30.7,0.02],[30.9,0.0],[31.1,0.01],[31.3,0.0],[31.6,0.02],[31.8,0.0],[32.0,0.01],[32.2,0.03],[32.4,0.0],[32.6,0.01],[32.8,0.02],[33.0,0.0],[33.2,0.01],[33.4,0.03],[33.6,0.0],[33.8,0.01],[34.0,0.0],[34.2,0.02],[34.4,0.0],[34.6,0.01],[34.8,0.0],[35.0,0.02],[35.2,0.0],[35.4,0.01],[35.6,0.0],[35.8,0.02],[36.0,0.05]];

// ---- Panel K (Clostridia) ----
const K_fit=[[29.3,0.04],[29.6,0.12],[30,0.16],[30.3,0.12],[30.7,0.04],[31,0.025],[31.3,0.04],[31.6,0.15],[32,0.22],[32.3,0.19],[32.5,0.2],[32.8,0.21],[33.1,0.17],[33.4,0.05],[33.7,0.1],[34,0.3],[34.2,0.36],[34.5,0.33],[35,0.29],[35.5,0.3],[36,0.3]];
const K_up=[[29.3,0.15],[29.6,0.25],[30,0.3],[30.3,0.24],[30.7,0.09],[31,0.06],[31.3,0.1],[31.6,0.27],[32,0.33],[32.3,0.3],[32.8,0.3],[33.1,0.26],[33.4,0.09],[33.7,0.2],[34,0.45],[34.2,0.5],[34.5,0.44],[35,0.39],[35.5,0.4],[36,0.46]];
const K_lo=[[29.3,0.0],[29.6,0.0],[30,0.0],[30.5,0.0],[31,0.0],[31.4,0.0],[31.6,0.05],[32,0.1],[32.3,0.09],[32.8,0.12],[33.1,0.06],[33.4,0.0],[33.7,0.0],[34,0.17],[34.2,0.2],[34.5,0.21],[35,0.2],[35.5,0.22],[36,0.14]];
const K_pts=[[29.3,0.02],[29.7,0.3],[30.0,0.82],[30.2,0.57],[30.7,0.47],[31.3,0.37],[31.4,0.5],[31.6,0.78],[31.8,0.5],[31.9,0.61],[32.0,0.83],[32.1,0.48],[32.0,0.62],[32.3,0.77],[32.4,0.6],[32.6,0.68],[32.8,0.66],[32.9,0.4],[33.0,0.35],[33.1,0.33],[33.2,0.4],[33.0,0.55],[32.7,0.3],[32.2,0.1],[31.9,0.12],[31.6,0.05],[31.7,0.1],[32.5,0.05],[32.8,0.06],[33.1,0.0],[34.0,0.83],[34.2,0.8],[34.1,0.66],[34.3,0.65],[34.4,0.55],[34.0,0.57],[34.6,0.82],[34.5,0.62],[34.8,0.47],[34.9,0.56],[35.0,0.63],[35.3,0.72],[35.5,0.56],[35.4,0.42],[35.8,0.62],[35.9,0.64],[35.9,0.4],[35.6,0.37],[34.2,0.4],[34.3,0.3],[34.5,0.27],[34.7,0.22],[34.9,0.3],[35.1,0.35],[35.3,0.25],[35.7,0.2],[35.9,0.13],[35.0,0.09],[34.6,0.15],[34.1,0.22],[33.9,0.12],[33.6,0.05],[34.8,0.45],
[29.5,0.0],[30.0,0.01],[30.3,0.0],[30.6,0.01],[30.9,0.0],[31.2,0.01],[31.5,0.0],[31.8,0.01],[32.1,0.0],[32.3,0.01],[32.6,0.0],[32.9,0.01],[33.2,0.0],[33.4,0.01],[33.7,0.0],[33.9,0.01],[34.1,0.0],[34.4,0.01],[34.7,0.0],[35.0,0.01],[35.3,0.0],[35.6,0.01],[35.9,0.0]];

// ---- Panel L (Gammaproteobacteria) ----
const L_fit=[[29.3,0.06],[29.6,0.15],[30,0.3],[30.4,0.55],[30.8,0.7],[31.2,0.68],[31.6,0.6],[31.9,0.4],[32.2,0.33],[32.5,0.38],[32.8,0.47],[33.1,0.42],[33.5,0.3],[33.8,0.37],[34.1,0.4],[34.5,0.47],[35,0.55],[35.5,0.51],[36,0.46]];
const L_up=[[29.3,0.31],[29.6,0.33],[30,0.5],[30.4,0.8],[30.8,0.94],[31.2,0.9],[31.6,0.78],[31.9,0.58],[32.2,0.5],[32.5,0.52],[32.8,0.66],[33.1,0.6],[33.5,0.43],[33.8,0.48],[34.1,0.5],[34.5,0.59],[35,0.67],[35.5,0.62],[36,0.58]];
const L_lo=[[29.3,0.0],[29.6,0.0],[29.9,0.0],[30.2,0.35],[30.5,0.52],[30.8,0.55],[31.2,0.56],[31.6,0.45],[31.9,0.25],[32.2,0.13],[32.5,0.2],[32.8,0.3],[33.1,0.28],[33.5,0.13],[33.8,0.24],[34.1,0.29],[34.5,0.39],[35,0.46],[35.5,0.42],[36,0.28]];
const L_pts=[[29.4,0.12],[29.6,0.1],[29.5,0.58],[29.8,0.2],[30.0,0.33],[30.1,0.99],[30.2,0.45],[30.3,0.99],[30.4,0.97],[30.5,0.98],[30.6,0.95],[30.8,1.0],[30.9,0.9],[31.1,0.98],[31.0,0.1],[30.7,0.15],[30.5,0.78],[31.3,0.88],[31.5,1.0],[31.6,0.98],[31.6,0.93],[31.8,0.82],[32.0,0.4],[32.2,0.85],[32.5,0.98],[32.5,0.86],[32.7,0.97],[32.9,0.99],[33.1,1.0],[33.2,0.98],[33.4,0.8],[33.6,0.9],[33.7,0.86],[33.5,0.78],[33.9,0.71],[34.0,0.63],[34.2,0.8],[34.4,0.9],[34.5,0.7],[34.8,0.73],[35.0,0.99],[35.2,0.98],[35.3,0.93],[35.4,0.77],[35.6,0.96],[35.9,0.83],[35.8,0.58],[35.4,0.64],[34.9,0.57],[34.6,0.5],[34.3,0.55],[33.8,0.58],[33.5,0.52],[33.0,0.58],[32.8,0.6],[32.3,0.34],[32.1,0.27],[32.6,0.25],[33.2,0.29],[33.7,0.22],[34.0,0.13],[34.1,0.3],[34.4,0.28],[34.6,0.4],[35.0,0.35],[35.3,0.33],[35.5,0.11],[35.9,0.35],[31.4,0.35],[31.7,0.28],[30.9,0.6],[31.2,0.57],
[30.1,0.0],[32.0,0.0],[32.2,0.02],[32.4,0.0],[32.6,0.01],[32.8,0.0],[33.0,0.02],[33.2,0.0],[33.4,0.01],[33.6,0.0],[33.8,0.02],[34.0,0.0],[34.3,0.01],[34.6,0.0],[35.0,0.0],[35.4,0.0]];

const panels=[
 {pts:A_pts,fit:A_fit,up:A_up,lo:A_lo},{pts:B_pts,fit:B_fit,up:B_up,lo:B_lo},{pts:C_pts,fit:C_fit,up:C_up,lo:C_lo},
 {pts:D_pts,fit:D_fit,up:D_up,lo:D_lo},{pts:E_pts,fit:E_fit,up:E_up,lo:E_lo},{pts:F_pts,fit:F_fit,up:F_up,lo:F_lo},
 {pts:G_pts,fit:G_fit,up:G_up,lo:G_lo},{pts:H_pts,fit:H_fit,up:H_up,lo:H_lo},{pts:I_pts,fit:I_fit,up:I_up,lo:I_lo},
 {pts:J_pts,fit:J_fit,up:J_up,lo:J_lo},{pts:K_pts,fit:K_fit,up:K_up,lo:K_lo},{pts:L_pts,fit:L_fit,up:L_up,lo:L_lo}];

// layout (pixel boxes) — [left, top, width, height]
const boxes=[[29,19,218,133],[285,19,216,133],[537,18,220,131],
 [27,208,218,131],[283,206,217,134],[538,207,219,132],
 [27,397,220,132],[283,396,218,133],[538,396,219,133],
 [28,587,219,131],[283,586,217,133],[538,587,219,131]];
const titleY=[8,8,8,195,195,195,385,385,385,579,579,579];
const letterPos=[[2,0],[258,0],[514,0],[2,185],[258,185],[514,185],[2,373],[258,373],[514,373],[4,562],[258,562],[514,562]];
const colors=['#1e1e88','#44d444','#bb2626'];
const FONT='Liberation Sans, Arial, sans-serif';

const grid=[],xAxis=[],yAxis=[],series=[],graphic=[];
panels.forEach((p,i)=>{
  const b=boxes[i];
  grid.push({left:b[0],top:b[1],width:b[2],height:b[3],show:true,borderColor:'#666',borderWidth:0.8,backgroundColor:'transparent',containLabel:false});
  xAxis.push({type:'value',gridIndex:i,min:23.48,max:37.52,
    name:'Postconceptional Age (Weeks)',nameLocation:'middle',nameGap:15,
    nameTextStyle:{fontSize:6.8,color:'#333',fontFamily:FONT},
    axisLine:{show:false},splitLine:{show:false},
    axisTick:{show:true,inside:false,length:3,customValues:xTicks,lineStyle:{color:'#666',width:0.7}},
    axisLabel:{customValues:xTicks,fontSize:6.3,color:'#444',margin:5,fontFamily:FONT}});
  yAxis.push({type:'value',gridIndex:i,min:-0.04,max:1.04,
    name:'Fractional Abundance of Reads',nameLocation:'middle',nameGap:19,
    nameTextStyle:{fontSize:6.5,color:'#333',fontFamily:FONT},
    axisLine:{show:false},splitLine:{show:false},
    axisTick:{show:true,inside:false,length:3,customValues:yTicks,lineStyle:{color:'#666',width:0.7}},
    axisLabel:{customValues:yTicks,rotate:90,fontSize:6.3,color:'#444',margin:4,fontFamily:FONT,formatter:v=>v.toFixed(1)}});
  const col=colors[i%3];
  series.push({type:'scatter',xAxisIndex:i,yAxisIndex:i,data:p.pts,symbol:'circle',symbolSize:3,itemStyle:{color:col,opacity:1},silent:true,z:2});
  [[p.up,0.9],[p.lo,0.9],[p.fit,3]].forEach(([d,w])=>{
    series.push({type:'line',xAxisIndex:i,yAxisIndex:i,data:d,smooth:0.35,smoothMonotone:'x',symbol:'none',clip:true,silent:true,
      lineStyle:{color:'#000',width:w},z:3});
  });
  graphic.push({type:'text',left:letterPos[i][0],top:letterPos[i][1],style:{text:letters[i],fontSize:18,fill:'#111',fontFamily:FONT}});
  graphic.push({type:'text',x:b[0]+b[2]/2,y:titleY[i],style:{text:'Taxa: '+taxa[i%3],fontSize:7,fontWeight:'bold',fill:'#222',fontFamily:FONT,textAlign:'center',textVerticalAlign:'middle'}});
});

const chart=echarts.init(document.getElementById('c'),null,{renderer:'canvas'});
chart.setOption({animation:false,backgroundColor:'#fff',grid,xAxis,yAxis,series,graphic});
</script>
</body></html>
